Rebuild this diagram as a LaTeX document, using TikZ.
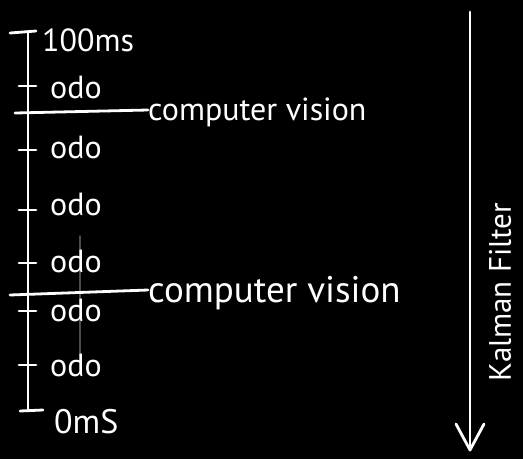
\documentclass[tikz,border=0pt]{standalone}
\usepackage{fontspec}
\setmainfont{PT Sans}
\begin{document}
\begin{tikzpicture}[x=1pt,y=-1pt,
  chalk/.style={draw=white, line width=2.8pt, line cap=round, line join=round},
  faint/.style={draw=white!30!black, line width=2pt, line cap=round},
  lbl/.style={text=white, inner sep=0pt, font=\fontsize{32}{34}\selectfont},
  big/.style={text=white, inner sep=0pt, font=\fontsize{32}{34}\selectfont}]
\fill[black] (0,0) rectangle (523,459);
\useasboundingbox (0,0) rectangle (523,459);
% timeline
\coordinate (top) at (28,32);
\coordinate (bot) at (28,411);
\coordinate (capTL) at (10,33);
\coordinate (capTR) at (36,31);
\coordinate (capBL) at (20,411);
\coordinate (capBR) at (43,410);
\draw[chalk] (top) -- (bot);
\draw[chalk] (capTL) -- (capTR);
\draw[chalk] (capBL) -- (capBR);
% ticks
\foreach \n/\y in {a/86,b/150,c/210,d/263,e/311,f/365}{
  \coordinate (t\n L) at (19,\y);
  \coordinate (t\n R) at (36,\y);
  \draw[chalk] (t\n L) -- (t\n R);
}
% faint erased stroke
\coordinate (fz1) at (80,236);
\coordinate (fz2) at (80,372);
\draw[faint] (fz1) -- (fz2);
% labels
\node[lbl, anchor=west] (l100) at (42,40) {100ms};
\node[lbl, anchor=west] (o1) at (50,87) {odo};
\node[lbl, anchor=west] (o2) at (50,147) {odo};
\node[lbl, anchor=west] (o3) at (50,204) {odo};
\node[lbl, anchor=west] (o4) at (50,261) {odo};
\node[lbl, anchor=west] (o5) at (50,310) {odo};
\node[lbl, anchor=west] (o6) at (50,365) {odo};
\node[lbl, anchor=west, font=\fontsize{34}{36}\selectfont] (l0) at (54,422) {0mS};
% computer vision
\node[big, anchor=base west] (cv1) at (148,120) {computer vision};
\node[big, anchor=base west, font=\fontsize{37}{40}\selectfont] (cv2) at (148,302) {computer vision};
\coordinate (cv1s) at (15,113);
\coordinate (cv2s) at (10,295);
\draw[chalk] (cv1s) -- (cv1.west |- 0,110);
\draw[chalk] (cv2s) -- (cv2.west |- 0,290);
% Kalman filter arrow
\coordinate (kTop) at (470,12);
\coordinate (kBot) at (470,450);
\coordinate (kL) at (456,424);
\coordinate (kR) at (484,424);
\draw[chalk] (kTop) -- (kBot);
\draw[chalk] (kL) -- (kBot) -- (kR);
\node[big, rotate=90, font=\fontsize{31}{33}\selectfont] (kf) at (500,292) {Kalman Filter};
\end{tikzpicture}
\end{document}
